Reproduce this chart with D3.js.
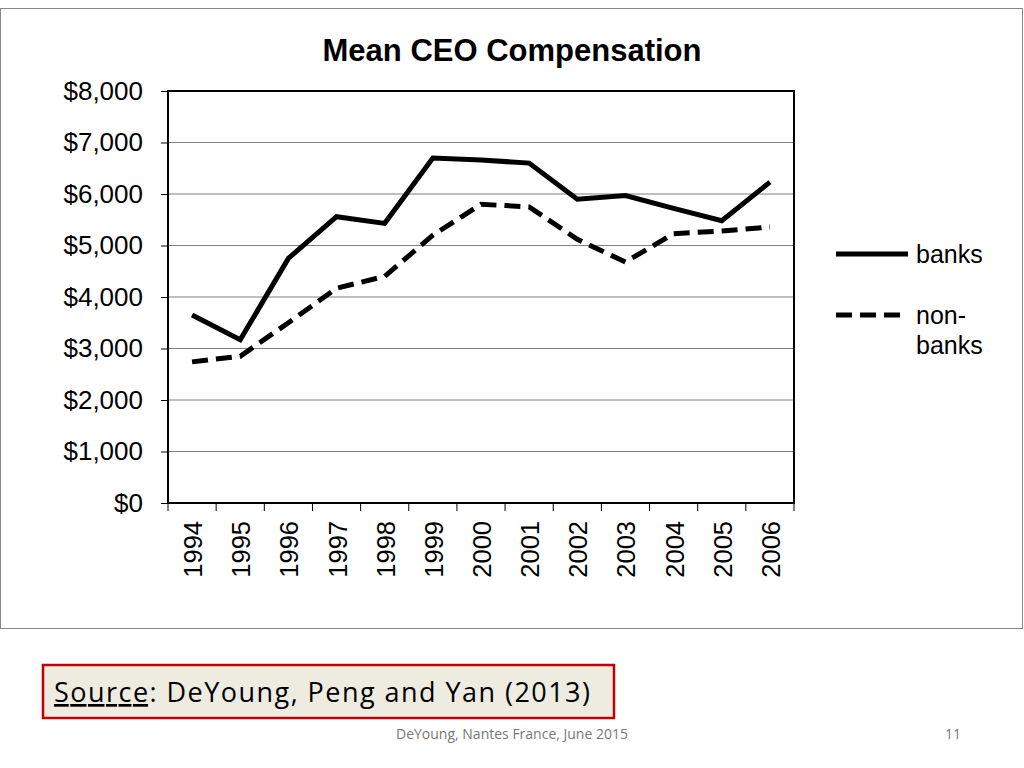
<!DOCTYPE html>
<html><head><meta charset="utf-8">
<script src="https://cdn.jsdelivr.net/npm/d3@7"></script>
<style>body{margin:0;background:#fff}svg{display:block}</style>
</head><body>
<svg id="c" width="1024" height="768"></svg>
<script>
// data
var years = ["1994","1995","1996","1997","1998","1999","2000","2001","2002","2003","2004","2005","2006"];
var banks = [3650,3170,4750,5560,5430,6700,6660,6600,5900,5970,5720,5480,6230];
var nonBanks = [2740,2850,3500,4170,4400,5200,5800,5750,5120,4680,5230,5280,5360];
var yTicks = [0,1000,2000,3000,4000,5000,6000,7000,8000];

var svg = d3.select("#c"), F = "Liberation Sans, Arial, sans-serif";
svg.append("rect").attr("x",0.5).attr("y",8.5).attr("width",1022).attr("height",620)
  .attr("fill","#fff").attr("stroke","#888");

var L=168,R=794,T=91,B=503;
var x = d3.scaleBand().domain(years).range([L,R]);
var y = d3.scaleLinear().domain([0,8000]).range([B,T]);

// gridlines
yTicks.forEach(function(t){
  svg.append("line").attr("x1",L).attr("x2",R).attr("y1",y(t)).attr("y2",y(t))
    .attr("stroke","#808080").attr("stroke-width",1);
});
svg.append("rect").attr("x",L).attr("y",T).attr("width",R-L).attr("height",B-T)
  .attr("fill","none").attr("stroke","#000").attr("stroke-width",2);

var ya = svg.append("g").attr("transform","translate("+L+",0)")
  .call(d3.axisLeft(y).tickValues(yTicks).tickSize(7).tickPadding(18)
    .tickFormat(function(d){return "$"+d3.format(",")(d);}));
ya.select(".domain").remove();
ya.selectAll("text").attr("font-family",F).attr("font-size",26).attr("fill","#000");

// x ticks at band edges
years.concat(["end"]).forEach(function(d,i){
  var xx = L + i*x.bandwidth();
  svg.append("line").attr("x1",xx).attr("x2",xx).attr("y1",B).attr("y2",B+8).attr("stroke","#000");
});
years.forEach(function(d){
  svg.append("text").attr("transform","translate("+(x(d)+x.bandwidth()/2+10)+","+(B+18)+") rotate(-90)")
    .attr("text-anchor","end").attr("font-family",F).attr("font-size",25.5).text(d);
});

var line = d3.line().x(function(d,i){return x(years[i])+x.bandwidth()/2;}).y(function(d){return y(d);});
svg.append("path").datum(banks).attr("d",line).attr("fill","none").attr("stroke","#000").attr("stroke-width",5);
svg.append("path").datum(nonBanks).attr("d",line).attr("fill","none").attr("stroke","#000")
  .attr("stroke-width",5).attr("stroke-dasharray","16 8");

svg.append("text").attr("x",512).attr("y",61).attr("text-anchor","middle").attr("font-family",F)
  .attr("font-weight","bold").attr("font-size",31).text("Mean CEO Compensation");

// legend
svg.append("line").attr("x1",836).attr("x2",908).attr("y1",254).attr("y2",254).attr("stroke","#000").attr("stroke-width",5);
svg.append("text").attr("x",916).attr("y",263).attr("font-family",F).attr("font-size",25).text("banks");
svg.append("line").attr("x1",836).attr("x2",908).attr("y1",315).attr("y2",315).attr("stroke","#000").attr("stroke-width",5).attr("stroke-dasharray","16 8");
svg.append("text").attr("x",916).attr("y",324).attr("font-family",F).attr("font-size",25).text("non-");
svg.append("text").attr("x",916).attr("y",354).attr("font-family",F).attr("font-size",25).text("banks");

// source box
svg.append("rect").attr("x",43).attr("y",665).attr("width",571).attr("height",53)
  .attr("fill","#eeece1").attr("stroke","#c00000").attr("stroke-width",2.5);
var st = svg.append("text").attr("x",54).attr("y",702).attr("font-family","Open Sans, sans-serif")
  .attr("font-size",27).attr("textLength",536).attr("lengthAdjust","spacing");
st.append("tspan").attr("text-decoration","underline").text("Source");
st.append("tspan").text(":  DeYoung, Peng and Yan (2013)");

svg.append("text").attr("x",512).attr("y",739).attr("text-anchor","middle").attr("font-family","Open Sans, sans-serif")
  .attr("font-size",14).attr("fill","#777").text("DeYoung, Nantes France, June 2015");
svg.append("text").attr("x",953).attr("y",739).attr("text-anchor","middle").attr("font-family","Open Sans, sans-serif")
  .attr("font-size",14).attr("fill","#777").text("11");
</script>
</body></html>
